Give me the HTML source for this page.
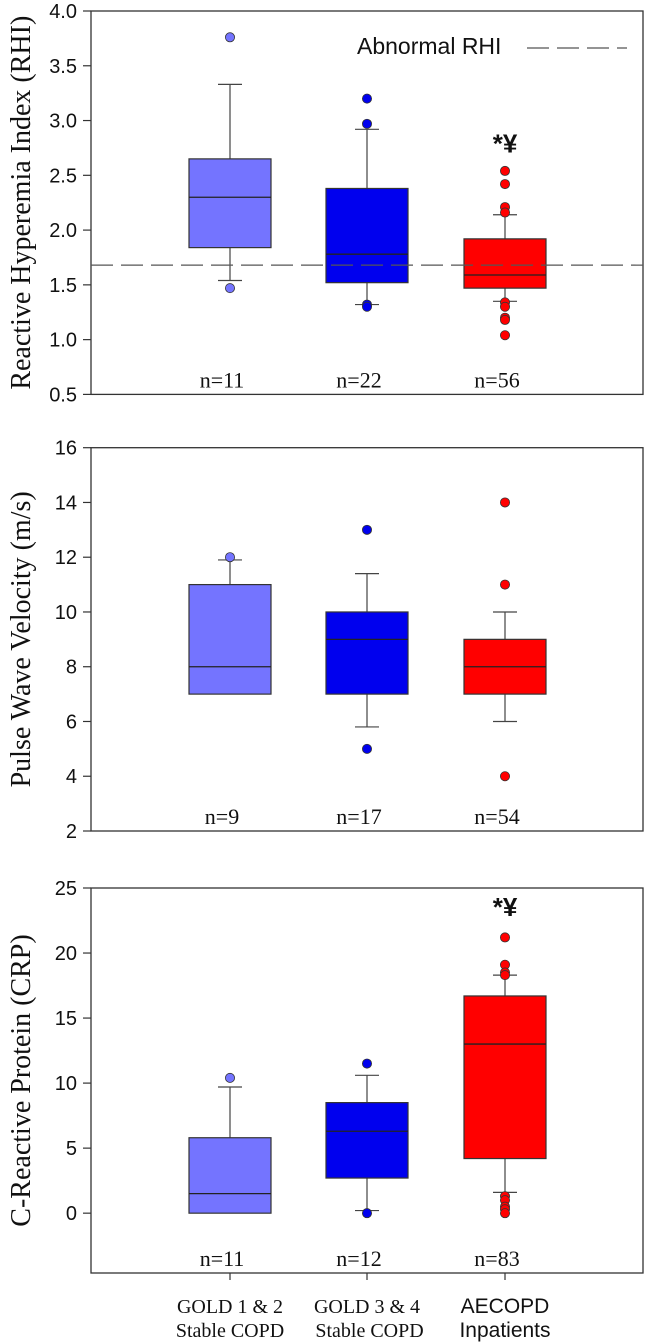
<!DOCTYPE html>
<html><head><meta charset="utf-8"><style>
html,body{margin:0;padding:0;background:#fff;}
svg{display:block;}
</style></head><body>
<svg id="chart" width="645" height="1342" xmlns="http://www.w3.org/2000/svg"></svg>
<script>
const NS="http://www.w3.org/2000/svg";
const svg=document.getElementById('chart');
const groupNames=["GOLD 1 & 2 Stable COPD","GOLD 3 & 4 Stable COPD","AECOPD Inpatients"];
const colors=["#7474ff","#0000ee","#ff0000"];
// Panel 1 RHI: [lowWhisker, q1, median, q3, highWhisker]
const rhiStats=[[1.54,1.84,2.30,2.65,3.33],[1.32,1.52,1.78,2.38,2.92],[1.35,1.47,1.59,1.92,2.14]];
const rhiOutliers=[[3.76,1.47],[3.20,2.97,1.32,1.30],[2.54,2.42,2.21,2.16,1.34,1.30,1.20,1.18,1.04]];
const rhiN=["n=11","n=22","n=56"];
const rhiTicks=[0.5,1.0,1.5,2.0,2.5,3.0,3.5,4.0];
const rhiThreshold=1.68;
// Panel 2 PWV
const pwvStats=[[7,7,8,11,11.9],[5.8,7,9,10,11.4],[6,7,8,9,10]];
const pwvOutliers=[[12],[13,5],[14,11,4]];
const pwvN=["n=9","n=17","n=54"];
const pwvTicks=[2,4,6,8,10,12,14,16];
// Panel 3 CRP
const crpStats=[[0,0,1.5,5.8,9.7],[0.2,2.7,6.3,8.5,10.6],[1.6,4.2,13,16.7,18.3]];
const crpOutliers=[[10.4],[11.5,0],[21.2,19.1,18.5,18.3,1.3,1.0,0.5,0.3,0]];
const crpN=["n=11","n=12","n=83"];
const crpTicks=[0,5,10,15,20,25];

function el(tag,attrs,parent,text){const e=document.createElementNS(NS,tag);for(const k in attrs)e.setAttribute(k,attrs[k]);if(text!==undefined)e.textContent=text;(parent||svg).appendChild(e);return e;}
const L=91,R=643,xc=[230,367,505],hw=41,cap=12;
function panel(name,top,bottom,vmin,vmax,ticks,tickFmt,stats,outs,ns,title,annot){
  const g=el('g',{});
  
  
  const y=v=>bottom-(v-vmin)/(vmax-vmin)*(bottom-top);
  const fr=el('rect',{x:L,y:top,width:R-L,height:bottom-top,fill:'none',stroke:'#333','stroke-width':1.3},g);
  
  ticks.forEach(t=>{
    el('line',{x1:L-8,x2:L,y1:y(t),y2:y(t),stroke:'#333','stroke-width':1.2},g);
    const tl=el('text',{x:L-14,y:y(t)+7,'text-anchor':'end','font-family':'Liberation Sans, sans-serif','font-size':20,fill:'#111'},g,tickFmt(t));
    
  });
  const yt=el('text',{x:0,y:0,transform:`translate(30,${(top+bottom)/2}) rotate(-90)`,'text-anchor':'middle','font-family':'Liberation Serif, serif','font-size':28,fill:'#111'},g,title);
  
  stats.forEach((s,i)=>{
    const x=xc[i];
    const bg=el('g',{},g);
    
    el('line',{x1:x,x2:x,y1:y(s[0]),y2:y(s[1]),stroke:'#444','stroke-width':1.2},bg);
    el('line',{x1:x,x2:x,y1:y(s[3]),y2:y(s[4]),stroke:'#444','stroke-width':1.2},bg);
    if(s[0]!==s[1])el('line',{x1:x-cap,x2:x+cap,y1:y(s[0]),y2:y(s[0]),stroke:'#444','stroke-width':1.2},bg);
    if(s[4]!==s[3])el('line',{x1:x-cap,x2:x+cap,y1:y(s[4]),y2:y(s[4]),stroke:'#444','stroke-width':1.2},bg);
    el('rect',{x:x-hw,y:y(s[3]),width:2*hw,height:y(s[1])-y(s[3]),fill:colors[i],stroke:'#333','stroke-width':1.2},bg);
    el('line',{x1:x-hw,x2:x+hw,y1:y(s[2]),y2:y(s[2]),stroke:'#222','stroke-width':1.3},bg);
    outs[i].forEach(v=>{
      const c=el('circle',{cx:x,cy:y(v),r:4.6,fill:colors[i],stroke:'#333','stroke-width':0.8},g);
      
    });
    const nt=el('text',{x:x-8,y:bottom-7,'text-anchor':'middle','font-family':'Liberation Serif, serif','font-size':22,fill:'#111'},g,ns[i]);
    
  });
  if(annot!==undefined){
    const a=el('text',{x:xc[2],y:y(annot)+10,'text-anchor':'middle','font-family':'Liberation Sans, sans-serif','font-size':26,'font-weight':'bold',fill:'#111'},g,'*¥');
    
  }
  return y;
}
const y1=panel('rhi-panel',11,394.4,0.5,4.0,rhiTicks,t=>t.toFixed(1),rhiStats,rhiOutliers,rhiN,'Reactive Hyperemia Index (RHI)',2.8);
const th=el('line',{x1:L,x2:R,y1:y1(rhiThreshold),y2:y1(rhiThreshold),stroke:'#555','stroke-width':1.2,'stroke-dasharray':'22 8'});

const lt=el('text',{x:357,y:54,'font-family':'Liberation Sans, sans-serif','font-size':23,fill:'#111'},svg,'Abnormal RHI');

const ll=el('line',{x1:527,x2:627,y1:48,y2:48,stroke:'#555','stroke-width':1.2,'stroke-dasharray':'22 8'});


panel('pwv-panel',447.7,831,2,16,pwvTicks,t=>String(t),pwvStats,pwvOutliers,pwvN,'Pulse Wave Velocity (m/s)');
panel('crp-panel',888,1273,-4.6,25,crpTicks,t=>String(t),crpStats,crpOutliers,crpN,'C-Reactive Protein (CRP)',23.6);

const xl=[["GOLD 1 & 2","Stable COPD",'Liberation Serif, serif',20],["GOLD 3 & 4"," Stable COPD",'Liberation Serif, serif',20],["AECOPD","Inpatients",'Liberation Sans, sans-serif',21]];
xc.forEach((x,i)=>{
  el('line',{x1:x,x2:x,y1:1273,y2:1280,stroke:'#333','stroke-width':1.2});
  const t=el('text',{x:x,y:1313,'text-anchor':'middle','font-family':xl[i][2],'font-size':xl[i][3],fill:'#111'},svg);
  
  el('tspan',{x:x,dy:0},t,xl[i][0]);
  el('tspan',{x:x,dy:24},t,xl[i][1]);
});
</script>
</body></html>
